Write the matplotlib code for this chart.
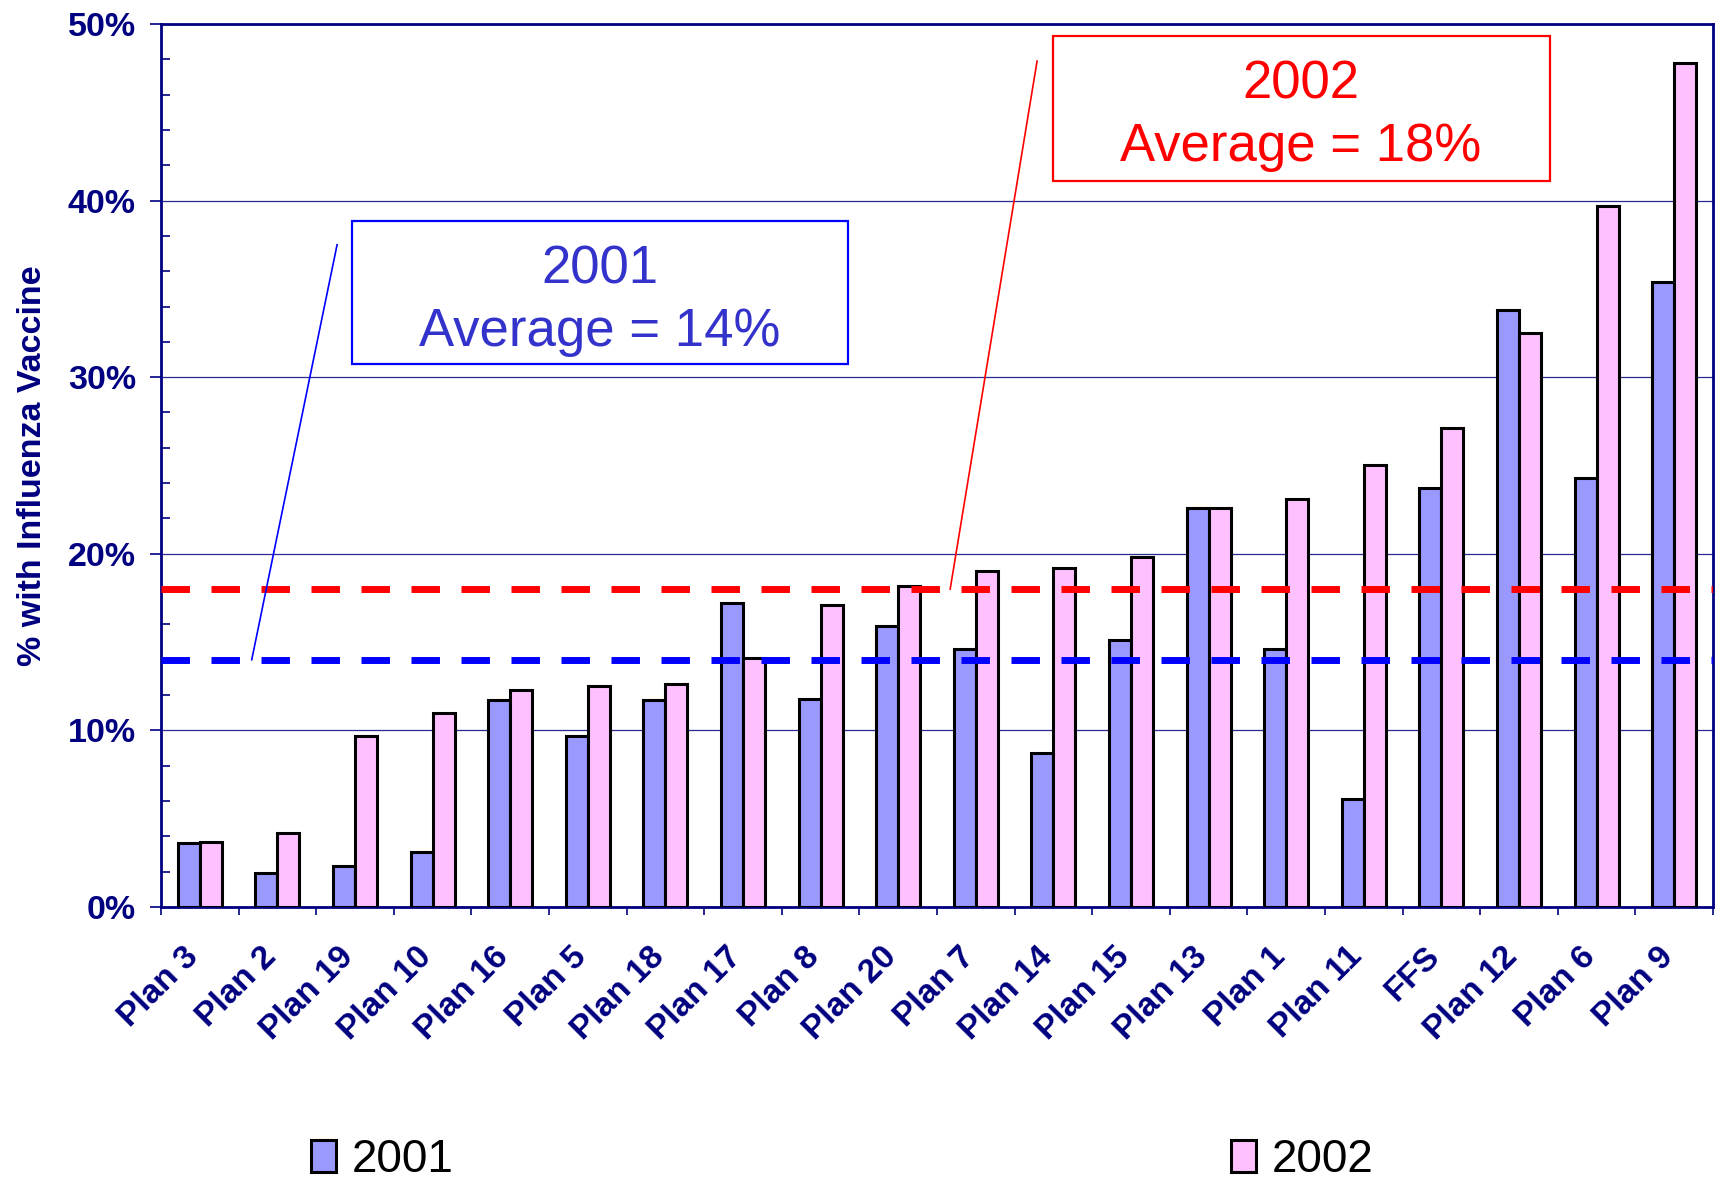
import matplotlib
matplotlib.use("Agg")
import matplotlib.pyplot as plt
from matplotlib.patches import Rectangle
from matplotlib.ticker import MultipleLocator, FuncFormatter
import matplotlib.transforms as mtrans

plans = ["Plan 3", "Plan 2", "Plan 19", "Plan 10", "Plan 16", "Plan 5", "Plan 18",
         "Plan 17", "Plan 8", "Plan 20", "Plan 7", "Plan 14", "Plan 15", "Plan 13",
         "Plan 1", "Plan 11", "FFS", "Plan 12", "Plan 6", "Plan 9"]
rate_2001 = [3.6, 1.9, 2.3, 3.1, 11.7, 9.7, 11.7, 17.2, 11.8, 15.9,
             14.6, 8.7, 15.1, 22.6, 14.6, 6.1, 23.7, 33.8, 24.3, 35.4]
rate_2002 = [3.7, 4.2, 9.7, 11.0, 12.3, 12.5, 12.6, 14.1, 17.1, 18.2,
             19.0, 19.2, 19.8, 22.6, 23.1, 25.0, 27.1, 32.5, 39.7, 47.8]
avg_2001 = 14
avg_2002 = 18

NAVY = "#000080"
plt.rcParams["font.family"] = ["Liberation Sans", "DejaVu Sans"]

fig = plt.figure(figsize=(17.23, 11.82), dpi=100)
ax = fig.add_axes([0.0934, 0.2327, 0.9008, 0.7470])

x = list(range(len(plans)))
w = 0.284
b1 = ax.bar([i - w / 2 for i in x], rate_2001, width=w, color="#9999FF",
            edgecolor="black", linewidth=2.2, zorder=3, label="2001")
b2 = ax.bar([i + w / 2 for i in x], rate_2002, width=w, color="#FFC0FF",
            edgecolor="black", linewidth=2.2, zorder=3, label="2002")

# average lines
ax.axhline(avg_2002, color="#FF0000", lw=5, dashes=(4.1, 3.1), zorder=4)
ax.axhline(avg_2001, color="#0000FF", lw=5, dashes=(4.1, 3.1), zorder=4)

ax.set_xlim(-0.5, len(plans) - 0.5)
ax.set_ylim(0, 50)

# callout boxes with leader lines
ax.plot([0.67, 1.77], [14, 37.5], color="#0000FF", lw=1.2, zorder=5)
ax.add_patch(Rectangle((1.96, 30.75), 6.39, 8.1, fill=False, edgecolor="#0000FF",
                       lw=1.6, zorder=5))
ax.text(5.16, 34.35, "2001\nAverage = 14%", color="#3333CC", fontsize=38,
        ha="center", va="center", linespacing=1.32, zorder=6)

ax.plot([9.67, 10.79], [18, 47.9], color="#FF0000", lw=1.2, zorder=5)
ax.add_patch(Rectangle((10.99, 41.1), 6.41, 8.2, fill=False, edgecolor="#FF0000",
                       lw=1.6, zorder=5))
ax.text(14.19, 44.78, "2002\nAverage = 18%", color="#FF0000", fontsize=38,
        ha="center", va="center", linespacing=1.32, zorder=6)

# y axis
ax.yaxis.set_major_locator(MultipleLocator(10))
ax.yaxis.set_minor_locator(MultipleLocator(2))
ax.yaxis.set_major_formatter(FuncFormatter(lambda v, p: f"{v:.0f}%"))
ax.tick_params(axis="y", which="major", direction="out", length=8, width=1.2,
               color=NAVY, pad=10, labelsize=24.5, labelcolor=NAVY)
ax.tick_params(axis="y", which="minor", direction="in", length=6.5, width=1.2,
               color=NAVY)
for lbl in ax.get_yticklabels():
    lbl.set_fontweight("bold")
ax.grid(axis="y", which="major", color="#2a2a90", lw=0.9, zorder=0)
ax.set_axisbelow(True)

ax.set_ylabel("% with Influenza Vaccine", fontsize=24.5, fontweight="bold", color=NAVY)
ax.yaxis.set_label_coords(-0.073, 0.5)

# x axis: ticks on category boundaries, labels drawn rotated under each group
ax.set_xticks([i + 0.5 for i in range(-1, len(plans))])
ax.set_xticklabels([])
ax.tick_params(axis="x", which="major", direction="out", length=6, width=1.2,
               color=NAVY)
offset = mtrans.ScaledTranslation(-0.06, -0.45, fig.dpi_scale_trans)
for i, name in enumerate(plans):
    ax.text(i, 0, name, transform=ax.get_xaxis_transform() + offset,
            rotation=45, rotation_mode="anchor", ha="right", va="center",
            fontsize=24, fontweight="bold", color=NAVY)

for side in ["left", "bottom", "top", "right"]:
    ax.spines[side].set_color(NAVY)
    ax.spines[side].set_linewidth(2)

# legend entries spread along the bottom
for handle, label, xpos in [(b1, "2001", 311 / 1723), (b2, "2002", 1231 / 1723)]:
    fig.legend([handle], [label], loc="center left",
               bbox_to_anchor=(xpos, 1 - 1160 / 1182), frameon=False,
               fontsize=33, handlelength=0.55, handleheight=0.7,
               handletextpad=0.35, borderpad=0, borderaxespad=0)

fig.savefig("out.png", dpi=100)
